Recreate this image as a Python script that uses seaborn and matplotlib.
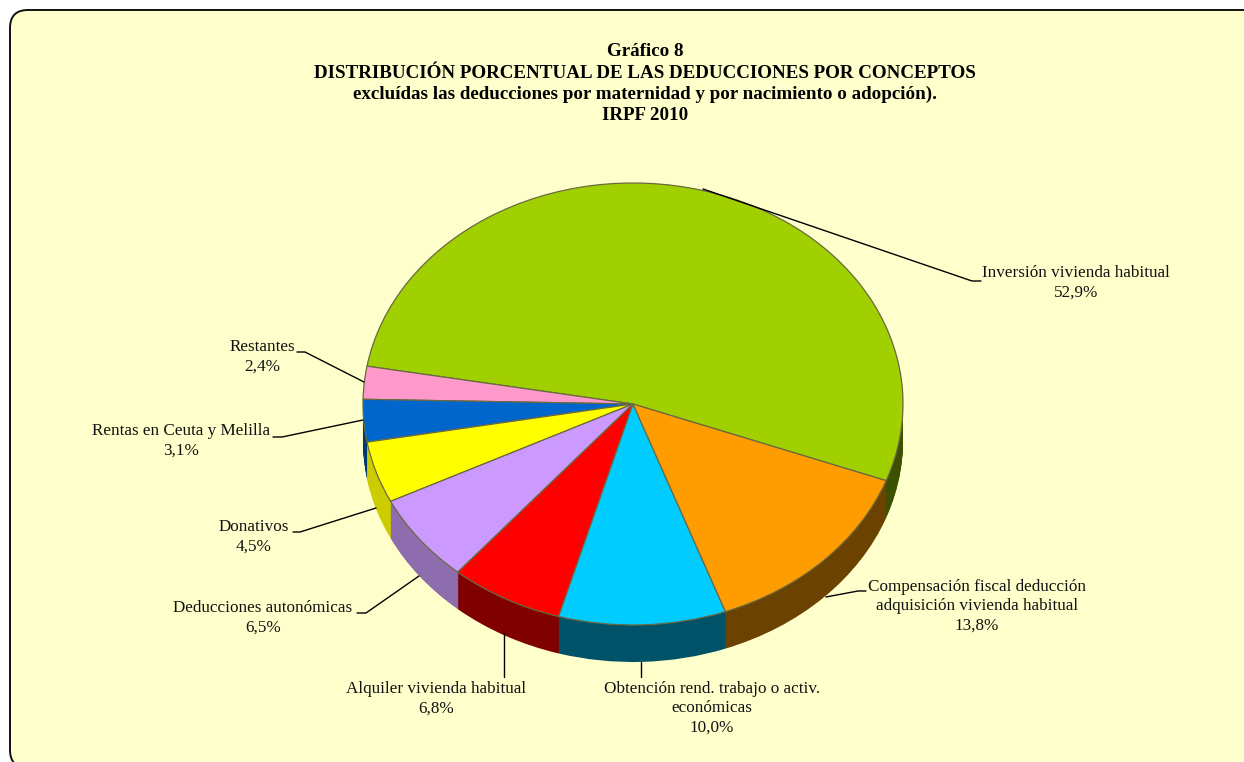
import matplotlib
matplotlib.use('Agg')
import matplotlib.pyplot as plt
from matplotlib.patches import FancyBboxPatch
import seaborn as sns

conceptos = ['Inversión vivienda habitual', 'Restantes', 'Rentas en Ceuta y Melilla', 'Donativos',
             'Deducciones autonómicas', 'Alquiler vivienda habitual',
             'Obtención rend. trabajo o activ.\neconómicas',
             'Compensación fiscal deducción\nadquisición vivienda habitual']
porcentajes = [52.9, 2.4, 3.1, 4.5, 6.5, 6.8, 10.0, 13.8]
colores = ['#A0D000', '#FF99CC', '#0066CC', '#FFFF00', '#CC99FF', '#FF0000', '#00CCFF', '#FF9C00']
colores_lado = ['#3D5000', '#8A5A78', '#003A70', '#CCCC00', '#8E6DAE', '#800000', '#005268', '#6B4200']
titulo = ['Gráfico 8', 'DISTRIBUCIÓN PORCENTUAL DE LAS DEDUCCIONES POR CONCEPTOS',
          'excluídas las deducciones por maternidad y por nacimiento o adopción).', 'IRPF 2010']

sns.set_style('white')
plt.rcParams['font.family'] = ['Liberation Serif', 'DejaVu Serif']

W, H = 1244, 762
cx, cy, rx, ry, grosor = 633, 404, 270, 221, 37

fig = plt.figure(figsize=(W / 100, H / 100), dpi=100, facecolor='white')

# fondo con esquinas redondeadas, se sale por la derecha y por abajo
fondo = fig.add_axes([0, 0, 1, 1], zorder=0)
fondo.set_xlim(0, W)
fondo.set_ylim(H, 0)
fondo.axis('off')
fondo.add_patch(FancyBboxPatch((10 + 16, 10 + 16), 1225, 726, boxstyle='round,pad=16,rounding_size=18',
                               fc='#FFFFCC', ec='#111111', lw=1.4))

# la tarta va en unidades de radio; el eje se estira para que salga elíptica
tarta = fig.add_axes([0, 0, 1, 1], zorder=1)
for capa in range(grosor, 0, -1):
    tarta.pie(porcentajes, colors=sns.color_palette(colores_lado), startangle=-20.3, counterclock=True,
              center=(0, -capa / ry), radius=1, wedgeprops={'linewidth': 0})
tarta.pie(porcentajes, colors=sns.color_palette(colores), startangle=-20.3, counterclock=True,
          center=(0, 0), radius=1, wedgeprops={'linewidth': 0.9, 'edgecolor': '#6A6A40'})
tarta.set_aspect('auto')
tarta.set_xlim(-cx / rx, (W - cx) / rx)
tarta.set_ylim((cy - H) / ry, cy / ry)
tarta.patch.set_alpha(0)

# textos y líneas guía en píxeles
capa_txt = fig.add_axes([0, 0, 1, 1], zorder=2)
capa_txt.set_xlim(0, W)
capa_txt.set_ylim(H, 0)
capa_txt.axis('off')
capa_txt.patch.set_alpha(0)

for y, linea in zip([51, 73, 94, 115], titulo):
    capa_txt.text(645, y, linea, ha='center', va='center', fontsize=13.7, fontweight='bold', color='black')

etiquetas = [(1076, 283), (262, 357), (181, 441), (254, 537), (263, 618), (436, 699), (712, 708), (977, 606)]
guias = [[(703, 189), (972, 281), (981, 281)], [(364, 382), (305, 352), (297, 352)],
         [(363, 420), (282, 437), (273, 437)], [(376, 508), (300, 532), (293, 532)],
         [(419, 576), (366, 613), (357, 613)], [(504, 633), (504, 677)],
         [(641, 662), (641, 677)], [(826, 597), (858, 591), (866, 591)]]

for nombre, pct, (x, y), guia in zip(conceptos, porcentajes, etiquetas, guias):
    txt = nombre + '\n' + f"{pct:.1f}%".replace('.', ',')
    capa_txt.text(x, y, txt, ha='center', va='center', fontsize=12.3, color='#111111', linespacing=1.28)
    capa_txt.plot([p[0] for p in guia], [p[1] for p in guia], color='black', lw=1.0)

fig.savefig('out.png', dpi=100)
